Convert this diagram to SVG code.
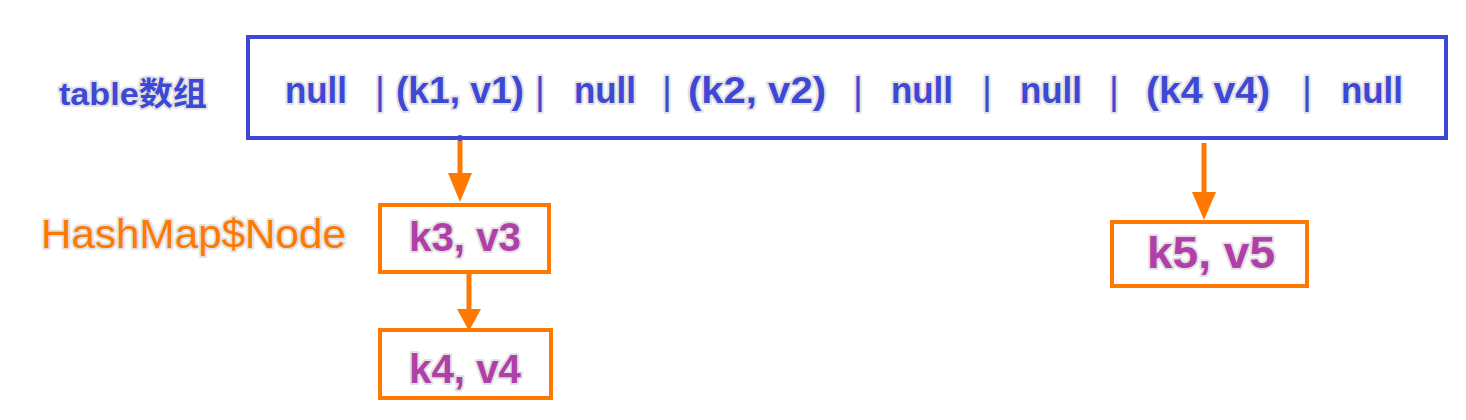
<svg xmlns="http://www.w3.org/2000/svg" width="1466" height="420" viewBox="0 0 1466 420">
<style>
.t{font-family:"Liberation Sans",Arial,"Noto Sans CJK SC",sans-serif;paint-order:stroke;stroke:#e2e2e2;stroke-width:4;stroke-linejoin:round}
.cell{fill:#3f48d4;font-size:36px;font-weight:bold;text-anchor:middle}
.bar{fill:#3f48d4;font-size:38px;text-anchor:middle}
.kv{fill:#b03fa8;text-anchor:middle;font-weight:bold}
.box{fill:#fff;stroke:#ff7800;stroke-width:4}
.ln{stroke:#ff7800;stroke-width:5;fill:none}
.hd{fill:#ff7800}
</style>
<rect width="1466" height="420" fill="#fff"/>
<g id="label-table"><text class="t" x="59" y="105" font-size="32" font-weight="bold" fill="#3f48d4" textLength="148" lengthAdjust="spacingAndGlyphs">table数组</text></g>
<g id="label-node"><text class="t" x="41" y="248" font-size="40" fill="#ff7800" textLength="305" lengthAdjust="spacingAndGlyphs">HashMap$Node</text></g>
<g id="table">
<rect x="248" y="37" width="1198" height="101" fill="#fff" stroke="#3f48d4" stroke-width="4"/>
<text class="t cell" x="316" y="103" textLength="62" lengthAdjust="spacingAndGlyphs">null</text>
<text class="t bar" x="380" y="104">|</text>
<text class="t cell" x="460" y="103" textLength="128" lengthAdjust="spacingAndGlyphs">(k1, v1)</text>
<text class="t bar" x="540" y="104">|</text>
<text class="t cell" x="605" y="103" textLength="62" lengthAdjust="spacingAndGlyphs">null</text>
<text class="t bar" x="667" y="104">|</text>
<text class="t cell" x="757" y="103" textLength="138" lengthAdjust="spacingAndGlyphs">(k2, v2)</text>
<text class="t bar" x="858" y="104">|</text>
<text class="t cell" x="922" y="103" textLength="62" lengthAdjust="spacingAndGlyphs">null</text>
<text class="t bar" x="987" y="104">|</text>
<text class="t cell" x="1051" y="103" textLength="62" lengthAdjust="spacingAndGlyphs">null</text>
<text class="t bar" x="1114" y="104">|</text>
<text class="t cell" x="1208" y="103" textLength="124" lengthAdjust="spacingAndGlyphs">(k4 v4)</text>
<text class="t bar" x="1307" y="104">|</text>
<text class="t cell" x="1372" y="103" textLength="62" lengthAdjust="spacingAndGlyphs">null</text>
</g>
<g id="node-k3v3"><rect class="box" x="380" y="205" width="169" height="67"/><text class="t kv" x="465" y="251" font-size="40" textLength="112" lengthAdjust="spacingAndGlyphs">k3, v3</text></g>
<g id="node-k4v4"><rect class="box" x="380" y="330" width="171" height="68"/><text class="t kv" x="465" y="383" font-size="40" textLength="112" lengthAdjust="spacingAndGlyphs">k4, v4</text></g>
<g id="node-k5v5"><rect class="box" x="1112" y="222" width="195" height="64"/><text class="t kv" x="1211" y="268" font-size="45" textLength="128" lengthAdjust="spacingAndGlyphs">k5, v5</text></g>
<g id="connectors">
<line class="ln" x1="460" y1="139" x2="460" y2="176"/><polygon class="hd" points="448,173 472,173 460,202"/>
<circle cx="460" cy="138" r="3" fill="#3f48d4"/>
<line class="ln" x1="469" y1="273" x2="469" y2="312"/><polygon class="hd" points="457,309 481,309 469,331"/>
<line class="ln" x1="1204" y1="143" x2="1204" y2="195"/><polygon class="hd" points="1192,192 1216,192 1204,220"/>
</g>
</svg>
